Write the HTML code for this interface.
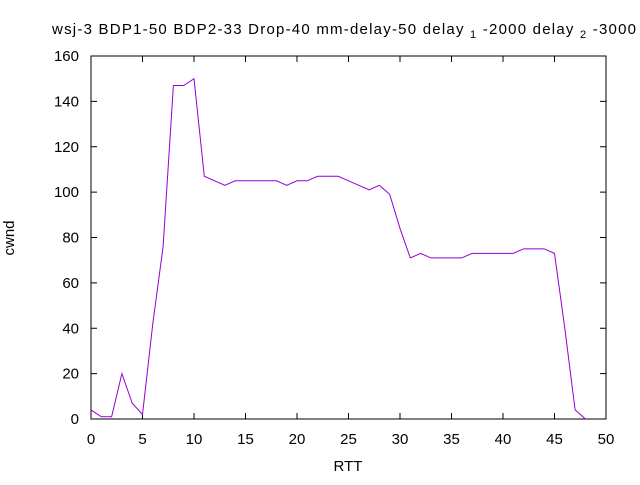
<!DOCTYPE html>
<html><head><meta charset="utf-8"><style>
body{margin:0;background:#fff}
svg{font-family:"Liberation Sans",sans-serif;font-size:15px}
</style></head><body>
<svg width="640" height="480">
<text x="52" y="34" textLength="584" lengthAdjust="spacing">wsj-3 BDP1-50 BDP2-33 Drop-40 mm-delay-50 delay <tspan font-size="11" dy="4">1</tspan><tspan dy="-4"> -2000 delay </tspan><tspan font-size="11" dy="4">2</tspan><tspan dy="-4"> -3000</tspan></text>
<rect x="91" y="56" width="515" height="363" fill="none" stroke="#000" stroke-width="1"/>
<g id="axes"></g>
<text x="14" y="238" text-anchor="middle" transform="rotate(-90 14 238)">cwnd</text>
<text x="348" y="471" text-anchor="middle">RTT</text>
<path id="line" fill="none" stroke="#9400d3" stroke-width="1"/>
</svg>
<script>
const xVals=[0,1,2,3,4,5,6,7,8,9,10,11,12,13,14,15,16,17,18,19,20,21,22,23,24,25,26,27,28,29,30,31,32,33,34,35,36,37,38,39,40,41,42,43,44,45,46,47,48];
const cwnd=[4,1,1,20,7,2,42,76,147,147,150,107,105,103,105,105,105,105,105,103,105,105,107,107,107,105,103,101,103,99,84,71,73,71,71,71,71,73,73,73,73,73,75,75,75,73,40,4,0];
const xTicks=[0,5,10,15,20,25,30,35,40,45,50];
const yTicks=[0,20,40,60,80,100,120,140,160];
const X=v=>91+v*515/50, Y=v=>419-v*363/160;
const ns="http://www.w3.org/2000/svg", g=document.getElementById('axes');
function mk(t,a){const e=document.createElementNS(ns,t);for(const k in a)e.setAttribute(k,a[k]);g.appendChild(e);return e;}
xTicks.forEach(t=>{
 const l=mk('line',{x1:X(t),x2:X(t),y1:419,y2:413,stroke:'#000'});
 
 
 const l2=mk('line',{x1:X(t),x2:X(t),y1:56,y2:62,stroke:'#000'});
 
 
 const s=mk('text',{x:X(t),y:444,'text-anchor':'middle'});s.textContent=t;
 
 
});
yTicks.forEach(t=>{
 const l=mk('line',{x1:91,x2:97,y1:Y(t),y2:Y(t),stroke:'#000'});
 
 
 const l2=mk('line',{x1:606,x2:600,y1:Y(t),y2:Y(t),stroke:'#000'});
 
 
 const s=mk('text',{x:79,y:Y(t)+5,'text-anchor':'end'});s.textContent=t;
 
 
});
document.getElementById('line').setAttribute('d',xVals.map((x,i)=>(i?'L':'M')+X(x)+' '+Y(cwnd[i])).join(' '));
</script>
</body></html>
